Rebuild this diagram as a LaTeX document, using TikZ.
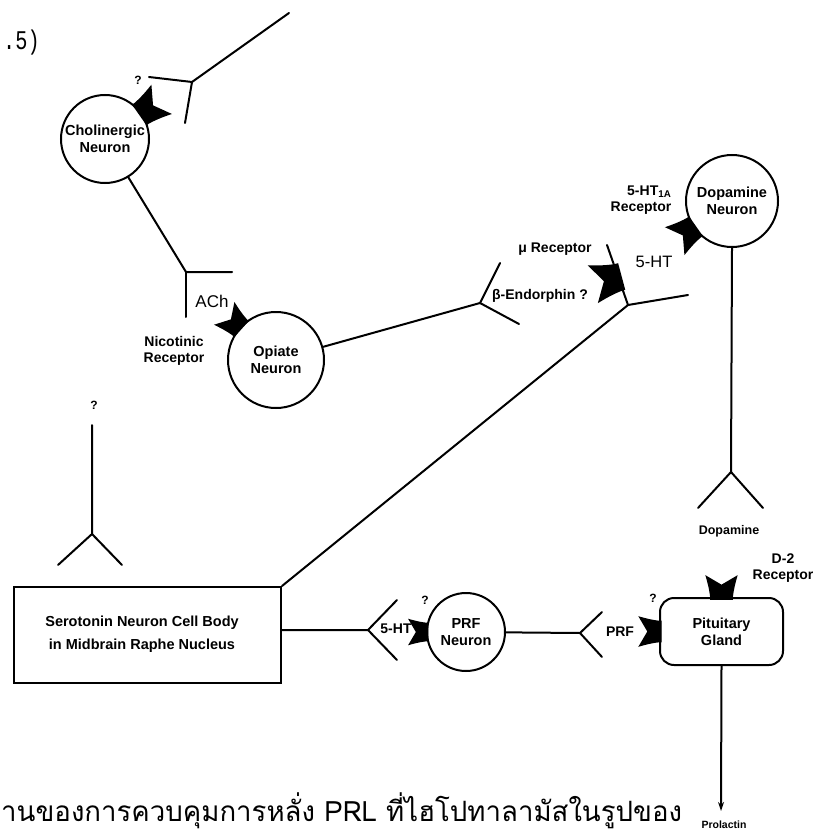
\documentclass[tikz,border=0pt]{standalone}
\usepackage{fontspec}
\setmainfont{Liberation Sans}
\newfontfamily\thaifont[Script=Thai]{Loma}
\newfontfamily\twfont{Liberation Mono}
\usetikzlibrary{arrows.meta,calc}
\tikzset{
  ln/.style={line width=2pt, line cap=round},
  neuron/.style={circle, draw, line width=2pt, align=center, inner sep=0pt,
    font=\fontsize{14.5}{17.5}\selectfont\bfseries},
  gland/.style={rectangle, draw, line width=2pt, align=center, inner sep=0pt,
    font=\fontsize{14.5}{17}\selectfont\bfseries},
  lab/.style={align=center, inner sep=0pt, font=\fontsize{14}{15.5}\selectfont\bfseries},
  small/.style={align=center, inner sep=0pt, font=\fontsize{12.5}{14}\selectfont\bfseries},
  big/.style={inner sep=0pt, font=\fontsize{16.5}{19}\selectfont},
  qm/.style={inner sep=0pt, font=\fontsize{12}{14}\selectfont\bfseries},
  rec/.pic={\fill (-3,-12) -- (0,-12) .. controls (9,-13) and (16,-15) .. (23,-17)
      .. controls (18,-8) .. (13,0) .. controls (18,8) .. (23,17)
      .. controls (16,15) and (9,13) .. (0,12) -- (-3,12) -- cycle;}
}
\begin{document}
\begin{tikzpicture}[x=1pt,y=-1pt]
\useasboundingbox (0,0) rectangle (824,834);
\fill[white] (0,0) rectangle (824,834);

% nodes
\node[neuron, minimum size=88pt] (chol) at (105,139) {Cholinergic\\Neuron};
\node[neuron, minimum size=96pt] (opi) at (276,360) {Opiate\\Neuron};
\node[neuron, minimum size=92pt] (dop) at (732,201) {Dopamine\\Neuron};
\node[neuron, minimum size=78pt] (prf) at (466,632) {PRF\\Neuron};
\node[gland, rounded corners=14pt, minimum width=123pt, minimum height=67pt] (pit) at (721.5,631.5) {Pituitary\\Gland};
\node[rectangle, draw, line width=2pt, minimum width=267pt, minimum height=96pt, inner sep=0pt] (sero) at (147.5,635) {};
\node[align=center, inner sep=0pt, font=\fontsize{14.5}{23}\selectfont\bfseries] (serotxt) at (142,634) {Serotonin Neuron Cell Body\\in Midbrain Raphe Nucleus};

% coordinates
\coordinate (A1) at (289,13);
\coordinate (J1) at (192,82);
\coordinate (B1a) at (149,77);
\coordinate (B1b) at (185,123);
\coordinate (J2) at (186,272);
\coordinate (B2a) at (232,272);
\coordinate (B2b) at (186,317);
\coordinate (J3) at (480,303);
\coordinate (B3a) at (500,263);
\coordinate (B3b) at (519,324);
\coordinate (J4) at (628,305);
\coordinate (B4a) at (607,245);
\coordinate (B4b) at (688,295);
\coordinate (J5) at (731,472);
\coordinate (B5a) at (698,508);
\coordinate (B5b) at (763,508);
\coordinate (J6) at (368,630);
\coordinate (B6a) at (397,600);
\coordinate (B6b) at (397,660);
\coordinate (J7) at (580,633);
\coordinate (B7a) at (602,612);
\coordinate (B7b) at (602,657);
\coordinate (T8) at (92,425);
\coordinate (J8) at (92,534);
\coordinate (B8a) at (58,565);
\coordinate (B8b) at (122,565);
\coordinate (P9) at (721,811);

% connectors
\draw[ln] (A1) -- (J1) -- (B1a);
\draw[ln] (J1) -- (B1b);
\draw[ln] (chol) -- (J2) -- (B2a);
\draw[ln] (J2) -- (B2b);
\draw[ln] (opi) -- (J3) -- (B3a);
\draw[ln] (J3) -- (B3b);
\draw[ln] (sero.north east) -- (J4) -- (B4a);
\draw[ln] (J4) -- (B4b);
\draw[ln] (dop.south) -- (J5) -- (B5a);
\draw[ln] (J5) -- (B5b);
\draw[ln] (J6 -| sero.east) -- (J6) -- (B6a);
\draw[ln] (J6) -- (B6b);
\draw[ln] (prf) -- (J7) -- (B7a);
\draw[ln] (J7) -- (B7b);
\draw[ln] (T8) -- (J8) -- (B8a);
\draw[ln] (J8) -- (B8b);
\draw[ln, -{Stealth[length=9pt,width=6pt]}] (pit.south) -- (P9);

% receptors
\pic[rotate=35, scale=1.05] at (chol.35) {rec};
\pic[rotate=138, scale=0.9] at (opi.138) {rec};
\pic[rotate=215] at (dop.215) {rec};
\pic[rotate=195, scale=1.15] at ($(J4)!0.46!(B4a)$) {rec};
\pic[rotate=90, scale=0.95] at (pit.north) {rec};
\pic[rotate=180, scale=0.9] at (pit.west) {rec};
\pic[rotate=180, scale=0.78] at (prf.west) {rec};

% labels
\node[qm] (q1) at (138,80) {?};
\node[big, font=\fontsize{17}{19}\selectfont] (ach) at (212,301) {ACh};
\node[lab] (nic) at (174,351) {Nicotinic\\Receptor};
\node[qm] (q2) at (94,405) {?};
\node[lab] (mu) at (555,249) {μ Receptor};
\node[lab] (beta) at (540,296) {β-Endorphin ?};
\node[big] (sht) at (654,262) {5-HT};
\node[lab, align=right] (sht1a) at (641,200) {5-HT\textsubscript{1A}\\Receptor};
\node[small] (dopl) at (729,531) {Dopamine};
\node[lab] (d2) at (783,568) {D-2\\Receptor};
\node[qm] (q3) at (653,598) {?};
\node[lab] (prfl) at (620,632) {PRF};
\node[qm] (q4) at (425,600) {?};
\node[lab, font=\fontsize{14}{16}\selectfont\bfseries] (shtb) at (396,629) {5-HT};
\node[inner sep=0pt, font=\fontsize{10.5}{12}\selectfont\bfseries] (prl) at (724,825) {Prolactin};

% typewritten text
\node[anchor=base west, inner sep=0pt] (pg) at (3,50) {\scalebox{0.75}[1]{\twfont\fontsize{27}{30}\selectfont .5)}};
\node[anchor=base west, inner sep=0pt] (cap) at (1,821) {\scalebox{0.985}[1]{\thaifont\fontsize{28}{32}\selectfont านของการควบคุมการหลั่ง PRL ที่ไฮโปทาลามัสในรูปของ}};
\end{tikzpicture}
\end{document}
